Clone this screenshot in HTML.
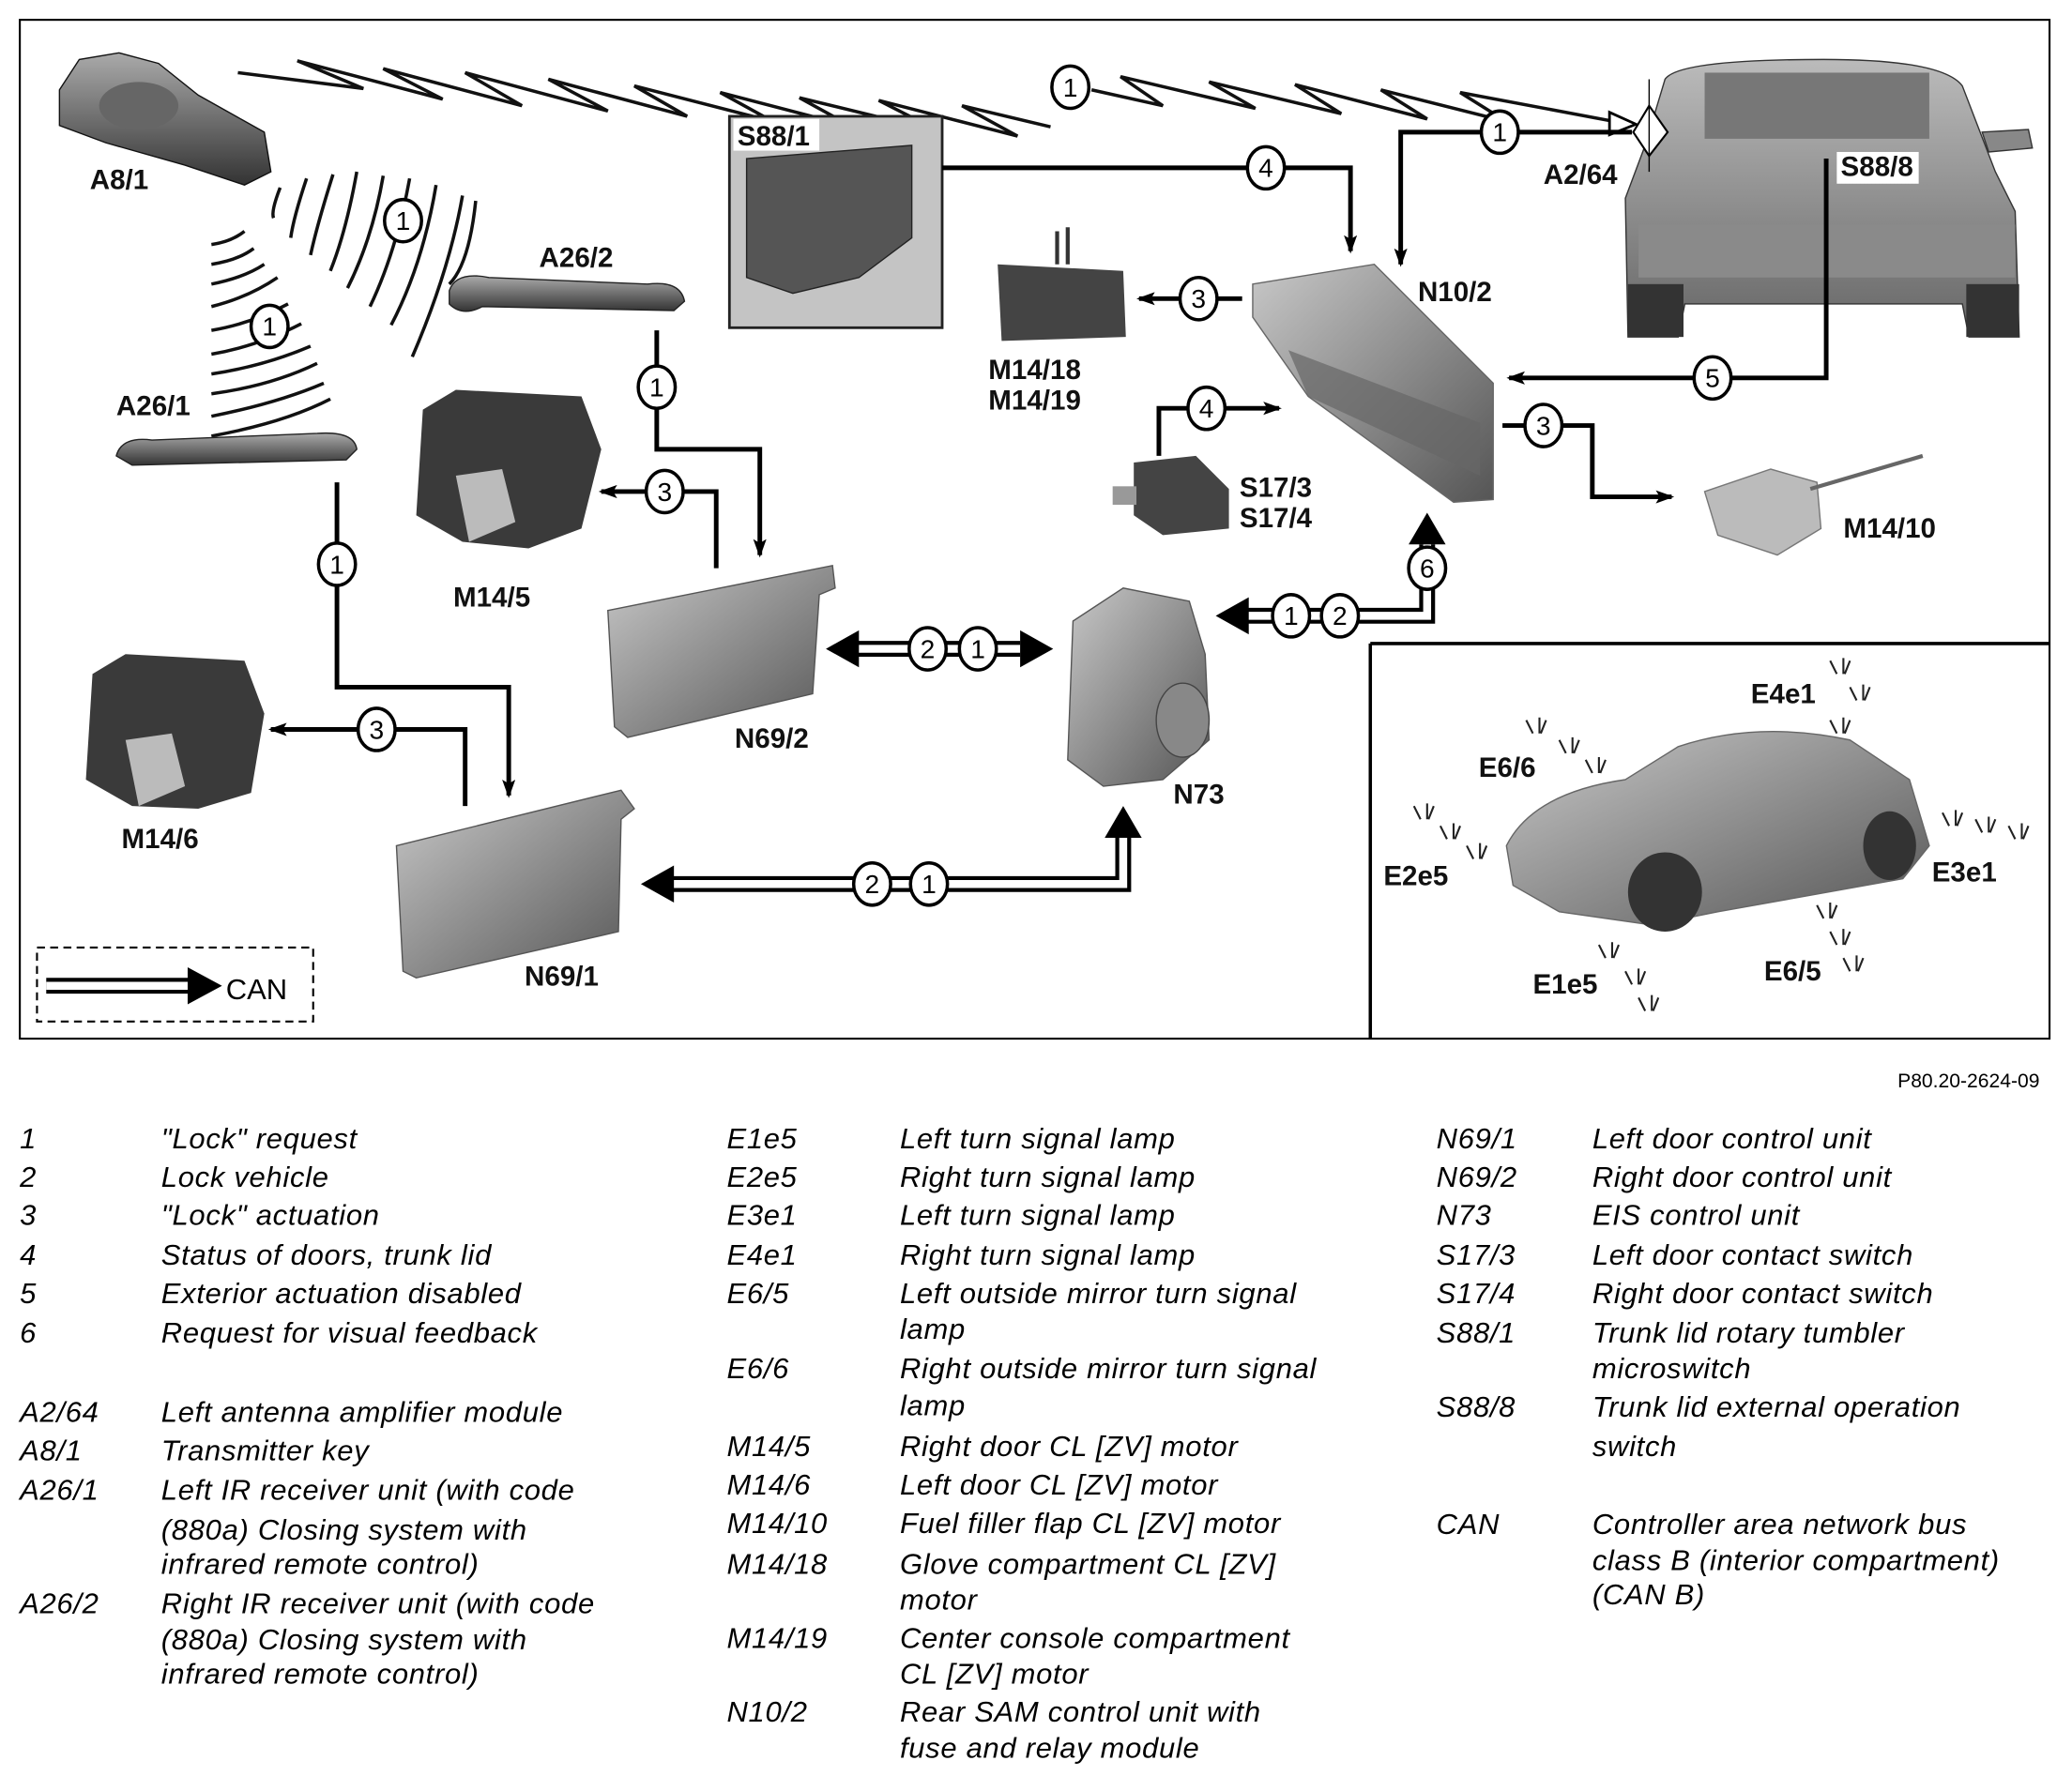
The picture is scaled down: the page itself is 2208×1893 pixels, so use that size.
<!DOCTYPE html>
<html><head><meta charset="utf-8"><style>
html,body{margin:0;padding:0;background:#fff;}
svg{display:block;}
.lb{font-family:"Liberation Sans Narrow","Liberation Sans",sans-serif;font-weight:bold;font-size:21px;fill:#111;}
.cn{font-family:"Liberation Sans Narrow","Liberation Sans",sans-serif;font-size:20px;fill:#000;text-anchor:middle;}
.lg{font-family:"Liberation Sans",sans-serif;font-style:italic;font-size:22px;letter-spacing:0.5px;fill:#000;}
.ln{fill:none;stroke:#000;stroke-width:3.5;}
.cw{fill:none;stroke:#fff;stroke-width:6;}
.cb{fill:none;stroke:#000;stroke-width:12;}
.w{fill:none;stroke:#111;stroke-width:2.5;}
</style></head><body>
<svg width="2208" height="1893" viewBox="0 0 1568 1344" preserveAspectRatio="none" xmlns="http://www.w3.org/2000/svg">
<defs>
<linearGradient id="g1" x1="0" y1="0" x2="1" y2="1"><stop offset="0" stop-color="#c8c8c8"/><stop offset="1" stop-color="#555"/></linearGradient>
<linearGradient id="g2" x1="0" y1="0" x2="0" y2="1"><stop offset="0" stop-color="#aaa"/><stop offset="1" stop-color="#333"/></linearGradient>
<linearGradient id="g3" x1="0" y1="0" x2="0" y2="1"><stop offset="0" stop-color="#bbb"/><stop offset="1" stop-color="#666"/></linearGradient>
<marker id="ar" markerWidth="14" markerHeight="10" refX="12" refY="5" orient="auto" markerUnits="userSpaceOnUse"><path d="M0,0 L14,5 L0,10 L3,5z" fill="#000"/></marker>
</defs>
<rect x="15" y="15" width="1536" height="771" fill="none" stroke="#000" stroke-width="1.5"/>
<path d="M1037,487 H1551 M1037,487 V786" stroke="#000" stroke-width="2.5" fill="none"/>

<!-- zigzag -->
<path d="M180,55 L275,67 L225,46 L335,75 L290,52 L395,80 L352,55 L460,84 L415,60 L520,88 L480,65 L585,92 L545,70 L645,96 L605,74 L712,100 L665,76 L770,103 L728,80 L795,96" class="w" stroke-width="3.5"/>
<path d="M826,68 L880,80 L848,58 L950,82 L915,62 L1015,86 L980,64 L1080,90 L1045,68 L1140,92 L1105,70 L1222,92" class="w" stroke-width="3.5"/>
<path d="M1218,85 L1238,94 L1218,102z" fill="#fff" stroke="#000" stroke-width="2"/>
<ellipse cx="810" cy="66" rx="14" ry="16" fill="#fff" stroke="#000" stroke-width="2.5"/><text class="cn" x="810" y="73">1</text>

<!-- key fob -->
<path d="M45,68 L60,45 L90,40 L120,48 L150,72 L200,100 L205,130 L185,140 L140,125 L80,108 L45,95z" fill="url(#g2)" stroke="#111"/>
<ellipse cx="105" cy="80" rx="30" ry="18" fill="#666"/>
<text class="lb" x="68" y="143">A8/1</text>

<!-- waves -->
<g class="w">
<path d="M212,142 Q205,160 207,165"/><path d="M232,135 Q222,165 220,180"/><path d="M252,132 Q240,170 235,193"/><path d="M270,130 Q262,175 250,205"/><path d="M290,133 Q282,180 263,218"/><path d="M310,135 Q300,190 280,232"/><path d="M330,140 Q320,200 296,246"/><path d="M350,148 Q340,205 312,270"/><path d="M360,152 Q355,200 340,215"/>
<path d="M160,185 Q175,183 185,175"/><path d="M160,200 Q180,197 192,188"/><path d="M160,215 Q185,210 200,200"/><path d="M160,232 Q188,225 210,210"/><path d="M160,250 Q190,245 218,230"/><path d="M160,268 Q195,262 228,245"/><path d="M160,283 Q200,277 235,262"/><path d="M160,298 Q205,292 240,275"/><path d="M160,315 Q210,305 245,290"/><path d="M160,330 Q215,320 250,302"/>
</g>
<ellipse cx="305" cy="167" rx="14" ry="16" fill="#fff" stroke="#000" stroke-width="2.5"/><text class="cn" x="305" y="174">1</text>
<ellipse cx="204" cy="247" rx="14" ry="16" fill="#fff" stroke="#000" stroke-width="2.5"/><text class="cn" x="204" y="254">1</text>

<!-- handles -->
<path d="M340,220 Q345,205 370,210 L490,215 Q515,212 518,228 L510,235 L365,232 Q350,240 340,230z" fill="url(#g2)" stroke="#222"/>
<text class="lb" x="408" y="202">A26/2</text>
<path d="M88,345 Q92,330 115,333 L240,328 Q268,326 270,340 L262,348 L100,352z" fill="url(#g2)" stroke="#222"/>
<text class="lb" x="88" y="314">A26/1</text>

<!-- S88/1 box -->
<rect x="552" y="88" width="161" height="160" fill="#c4c4c4" stroke="#222" stroke-width="2"/>
<rect x="555" y="90" width="65" height="24" fill="#fff"/>
<text class="lb" x="558" y="110">S88/1</text>
<path d="M565,120 L690,110 L690,180 L650,210 L600,222 L565,210z" fill="#555" stroke="#222"/>

<!-- M14/18 -->
<path d="M755,200 L850,205 L852,255 L758,258z" fill="#444"/>
<path d="M800,175 L800,200 M808,172 L808,200" stroke="#333" stroke-width="3"/>
<text class="lb" x="748" y="287">M14/18</text><text class="lb" x="748" y="310">M14/19</text>

<!-- N10/2 -->
<path d="M948,215 L1040,200 L1130,290 L1130,378 L1100,380 L990,300 L948,240z" fill="url(#g1)" stroke="#666"/>
<path d="M975,265 L1120,320 L1120,360 L990,300z" fill="#666" opacity=".7"/>
<text class="lb" x="1073" y="228">N10/2</text>

<!-- rear car -->
<path d="M1260,60 Q1270,45 1380,45 Q1470,45 1485,65 L1510,130 L1525,160 L1528,255 L1490,255 L1485,230 L1275,230 L1270,255 L1232,255 L1230,150 L1245,110z" fill="url(#g3)" stroke="#333"/>
<rect x="1290" y="55" width="170" height="50" fill="#777"/>
<rect x="1240" y="170" width="285" height="40" fill="#8a8a8a"/>
<rect x="1232" y="215" width="42" height="40" fill="#333"/><rect x="1488" y="215" width="40" height="40" fill="#333"/>
<path d="M1500,100 L1535,98 L1538,112 L1505,115z" fill="#888" stroke="#333"/>
<rect x="1390" y="115" width="62" height="24" fill="#fff"/>
<text class="lb" x="1393" y="133">S88/8</text>
<text class="lb" x="1168" y="139">A2/64</text>
<path d="M1248,80 L1262,100 L1248,118 L1236,100z" fill="#fff" stroke="#000" stroke-width="1.5"/>
<path d="M1248,60 L1248,130" stroke="#000" stroke-width="1"/>

<!-- S17 -->
<path d="M858,350 L905,345 L930,370 L930,400 L880,405 L858,390z" fill="#444"/>
<rect x="842" y="368" width="18" height="14" fill="#999"/>
<text class="lb" x="938" y="376">S17/3</text><text class="lb" x="938" y="399">S17/4</text>

<!-- M14/10 -->
<path d="M1290,372 L1340,355 L1375,365 L1378,400 L1345,420 L1300,405z" fill="#bbb" stroke="#777"/>
<path d="M1370,370 L1455,345" stroke="#666" stroke-width="3"/>
<text class="lb" x="1395" y="407">M14/10</text>

<!-- M14/5 -->
<path d="M320,310 L345,295 L440,300 L455,340 L440,400 L400,415 L350,410 L315,390z" fill="#3a3a3a"/>
<path d="M345,360 L380,355 L390,395 L355,410z" fill="#bbb"/>
<text class="lb" x="343" y="459">M14/5</text>
<!-- M14/6 -->
<path d="M70,510 L95,495 L185,500 L200,540 L190,600 L150,612 L100,610 L65,590z" fill="#3a3a3a"/>
<path d="M95,560 L130,555 L140,595 L105,610z" fill="#bbb"/>
<text class="lb" x="92" y="642">M14/6</text>

<!-- N69/2 -->
<path d="M460,462 L630,428 L632,445 L620,450 L615,525 L475,558 L465,550z" fill="url(#g1)" stroke="#555"/>
<text class="lb" x="556" y="566">N69/2</text>
<!-- N69/1 -->
<path d="M300,640 L470,598 L480,612 L470,620 L468,705 L315,740 L305,735z" fill="url(#g1)" stroke="#555"/>
<text class="lb" x="397" y="746">N69/1</text>
<!-- N73 -->
<path d="M812,470 L850,445 L900,455 L912,495 L915,560 L880,590 L835,595 L808,575z" fill="url(#g1)" stroke="#555"/>
<ellipse cx="895" cy="545" rx="20" ry="28" fill="#888" stroke="#444"/>
<text class="lb" x="888" y="608">N73</text>

<!-- connectors -->
<path class="ln" d="M713,127 H1022 V190" marker-end="url(#ar)"/>
<path class="ln" d="M1235,100 H1060 V200" marker-end="url(#ar)"/>
<path class="ln" d="M940,226 H862" marker-end="url(#ar)"/>
<path class="ln" d="M1382,120 V286 H1142" marker-end="url(#ar)"/>
<path class="ln" d="M1137,322 H1205 V376 H1265" marker-end="url(#ar)"/>
<path class="ln" d="M877,345 V309 H968" marker-end="url(#ar)"/>
<path class="ln" d="M497,250 V340 H575 V420" marker-end="url(#ar)"/>
<path class="ln" d="M542,430 V372 H455" marker-end="url(#ar)"/>
<path class="ln" d="M255,365 V520 H385 V602" marker-end="url(#ar)"/>
<path class="ln" d="M352,610 V552 H205" marker-end="url(#ar)"/>

<!-- CAN double lines -->
<path class="cb" d="M940,466 H1080 V412"/><path class="cw" d="M940,466 H1080 V412"/>
<path d="M920,466 L945,452 L945,480z M1080,388 L1066,412 L1094,412z" fill="#000"/>
<path class="cb" d="M648,491 H772"/><path class="cw" d="M648,491 H772"/>
<path d="M625,491 L650,477 L650,505z M797,491 L772,477 L772,505z" fill="#000"/>
<path class="cb" d="M508,669 H850 V634"/><path class="cw" d="M508,669 H850 V634"/>
<path d="M485,669 L510,655 L510,683z M850,610 L836,634 L864,634z" fill="#000"/>

<!-- circles -->
<g fill="#fff" stroke="#000" stroke-width="2.5">
<ellipse cx="958" cy="127" rx="14" ry="16"/><ellipse cx="1135" cy="100" rx="14" ry="16"/><ellipse cx="907" cy="226" rx="14" ry="16"/>
<ellipse cx="1296" cy="286" rx="14" ry="16"/><ellipse cx="1168" cy="322" rx="14" ry="16"/><ellipse cx="913" cy="309" rx="14" ry="16"/>
<ellipse cx="977" cy="466" rx="14" ry="16"/><ellipse cx="1014" cy="466" rx="14" ry="16"/><ellipse cx="1080" cy="430" rx="14" ry="16"/>
<ellipse cx="702" cy="491" rx="14" ry="16"/><ellipse cx="740" cy="491" rx="14" ry="16"/>
<ellipse cx="660" cy="669" rx="14" ry="16"/><ellipse cx="703" cy="669" rx="14" ry="16"/>
<ellipse cx="497" cy="293" rx="14" ry="16"/><ellipse cx="503" cy="372" rx="14" ry="16"/>
<ellipse cx="255" cy="427" rx="14" ry="16"/><ellipse cx="285" cy="552" rx="14" ry="16"/>
</g>
<g class="cn">
<text x="958" y="134">4</text><text x="1135" y="107">1</text><text x="907" y="233">3</text>
<text x="1296" y="293">5</text><text x="1168" y="329">3</text><text x="913" y="316">4</text>
<text x="977" y="473">1</text><text x="1014" y="473">2</text><text x="1080" y="437">6</text>
<text x="702" y="498">2</text><text x="740" y="498">1</text>
<text x="660" y="676">2</text><text x="703" y="676">1</text>
<text x="497" y="300">1</text><text x="503" y="379">3</text>
<text x="255" y="434">1</text><text x="285" y="559">3</text>
</g>

<!-- CAN legend -->
<rect x="28" y="717" width="209" height="56" fill="none" stroke="#000" stroke-width="1.5" stroke-dasharray="6,4"/>
<path class="cb" d="M35,746 H145"/><path class="cw" d="M35,746 H145"/>
<path d="M168,746 L142,732 L142,760z" fill="#000"/>
<text x="171" y="756" font-family="Liberation Sans,sans-serif" font-size="22" fill="#000">CAN</text>

<!-- inset car -->
<path d="M1140,640 Q1160,600 1230,590 L1270,565 Q1330,545 1400,560 L1445,590 L1460,640 L1440,665 L1300,690 L1250,700 L1180,690 L1145,670z" fill="url(#g1)" stroke="#666"/>
<ellipse cx="1260" cy="675" rx="28" ry="30" fill="#333"/><ellipse cx="1430" cy="640" rx="20" ry="26" fill="#333"/>
<g class="lb"><text x="1325" y="532">E4e1</text><text x="1119" y="588">E6/6</text><text x="1047" y="670">E2e5</text><text x="1462" y="667">E3e1</text><text x="1160" y="752">E1e5</text><text x="1335" y="742">E6/5</text></g>
<g fill="none" stroke="#222" stroke-width="1.5">
<path d="M1385,500 l5,10 m5,-12 l0,12 m5,-10 l-4,10 M1400,520 l5,10 m5,-12 l0,12 m5,-10 l-4,10 M1385,545 l5,10 m5,-12 l0,12 m5,-10 l-4,10 M1155,545 l5,10 m5,-12 l0,12 m5,-10 l-4,10 M1180,560 l5,10 m5,-12 l0,12 m5,-10 l-4,10 M1200,575 l5,10 m5,-12 l0,12 m5,-10 l-4,10 M1070,610 l5,10 m5,-12 l0,12 m5,-10 l-4,10 M1090,625 l5,10 m5,-12 l0,12 m5,-10 l-4,10 M1110,640 l5,10 m5,-12 l0,12 m5,-10 l-4,10 M1470,615 l5,10 m5,-12 l0,12 m5,-10 l-4,10 M1495,620 l5,10 m5,-12 l0,12 m5,-10 l-4,10 M1520,625 l5,10 m5,-12 l0,12 m5,-10 l-4,10 M1210,715 l5,10 m5,-12 l0,12 m5,-10 l-4,10 M1230,735 l5,10 m5,-12 l0,12 m5,-10 l-4,10 M1240,755 l5,10 m5,-12 l0,12 m5,-10 l-4,10 M1375,685 l5,10 m5,-12 l0,12 m5,-10 l-4,10 M1385,705 l5,10 m5,-12 l0,12 m5,-10 l-4,10 M1395,725 l5,10 m5,-12 l0,12 m5,-10 l-4,10"/>
</g>

<text x="1436" y="823" font-family="Liberation Sans,sans-serif" font-size="15" fill="#000">P80.20-2624-09</text>

<!-- legend -->
<g class="lg">
<text x="15" y="869">1</text><text x="122" y="869">"Lock" request</text>
<text x="15" y="898">2</text><text x="122" y="898">Lock vehicle</text>
<text x="15" y="927">3</text><text x="122" y="927">"Lock" actuation</text>
<text x="15" y="957">4</text><text x="122" y="957">Status of doors, trunk lid</text>
<text x="15" y="986">5</text><text x="122" y="986">Exterior actuation disabled</text>
<text x="15" y="1016">6</text><text x="122" y="1016">Request for visual feedback</text>
<text x="15" y="1076">A2/64</text><text x="122" y="1076">Left antenna amplifier module</text>
<text x="15" y="1105">A8/1</text><text x="122" y="1105">Transmitter key</text>
<text x="15" y="1135">A26/1</text><text x="122" y="1135">Left IR receiver unit (with code</text>
<text x="122" y="1165">(880a) Closing system with</text><text x="122" y="1191">infrared remote control)</text>
<text x="15" y="1221">A26/2</text><text x="122" y="1221">Right IR receiver unit (with code</text>
<text x="122" y="1248">(880a) Closing system with</text><text x="122" y="1274">infrared remote control)</text>

<text x="550" y="869">E1e5</text><text x="681" y="869">Left turn signal lamp</text>
<text x="550" y="898">E2e5</text><text x="681" y="898">Right turn signal lamp</text>
<text x="550" y="927">E3e1</text><text x="681" y="927">Left turn signal lamp</text>
<text x="550" y="957">E4e1</text><text x="681" y="957">Right turn signal lamp</text>
<text x="550" y="986">E6/5</text><text x="681" y="986">Left outside mirror turn signal</text><text x="681" y="1013">lamp</text>
<text x="550" y="1043">E6/6</text><text x="681" y="1043">Right outside mirror turn signal</text><text x="681" y="1071">lamp</text>
<text x="550" y="1102">M14/5</text><text x="681" y="1102">Right door CL [ZV] motor</text>
<text x="550" y="1131">M14/6</text><text x="681" y="1131">Left door CL [ZV] motor</text>
<text x="550" y="1160">M14/10</text><text x="681" y="1160">Fuel filler flap CL [ZV] motor</text>
<text x="550" y="1191">M14/18</text><text x="681" y="1191">Glove compartment CL [ZV]</text><text x="681" y="1218">motor</text>
<text x="550" y="1247">M14/19</text><text x="681" y="1247">Center console compartment</text><text x="681" y="1274">CL [ZV] motor</text>
<text x="550" y="1303">N10/2</text><text x="681" y="1303">Rear SAM control unit with</text><text x="681" y="1330">fuse and relay module</text>

<text x="1087" y="869">N69/1</text><text x="1205" y="869">Left door control unit</text>
<text x="1087" y="898">N69/2</text><text x="1205" y="898">Right door control unit</text>
<text x="1087" y="927">N73</text><text x="1205" y="927">EIS control unit</text>
<text x="1087" y="957">S17/3</text><text x="1205" y="957">Left door contact switch</text>
<text x="1087" y="986">S17/4</text><text x="1205" y="986">Right door contact switch</text>
<text x="1087" y="1016">S88/1</text><text x="1205" y="1016">Trunk lid rotary tumbler</text><text x="1205" y="1043">microswitch</text>
<text x="1087" y="1072">S88/8</text><text x="1205" y="1072">Trunk lid external operation</text><text x="1205" y="1102">switch</text>
<text x="1087" y="1161">CAN</text><text x="1205" y="1161">Controller area network bus</text><text x="1205" y="1188">class B (interior compartment)</text><text x="1205" y="1214">(CAN B)</text>
</g>
</svg>
</body></html>
